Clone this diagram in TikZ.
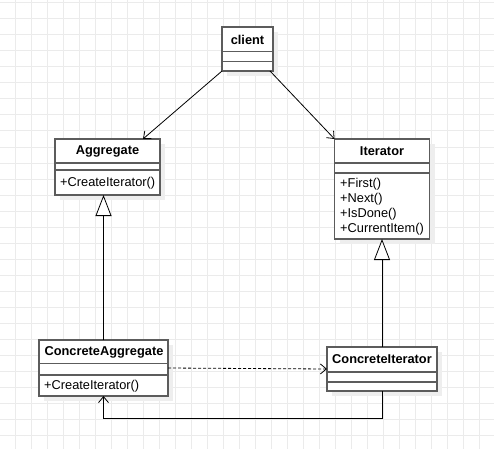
\documentclass[tikz,border=0pt]{standalone}
\usepackage{fontspec}
\setmainfont{Liberation Sans}
\usetikzlibrary{arrows.meta,shadows,calc}
\definecolor{gridc}{HTML}{EBEBEB}
\definecolor{boxc}{HTML}{5C5C5C}
\definecolor{shadowc}{HTML}{EEEEEE}
\begin{document}
\begin{tikzpicture}[x=1pt,y=-1pt,
  cls/.style={draw=boxc, line width=1.3pt, fill=white, inner sep=0pt, outer sep=0pt, anchor=north west,
    drop shadow={shadow xshift=5pt, shadow yshift=-5pt, fill=shadowc, opacity=1}},
  ttl/.style={font=\fontsize{12.8}{15}\selectfont\bfseries, inner sep=0pt},
  mth/.style={font=\fontsize{12.8}{15}\selectfont, inner sep=0pt, anchor=west},
  div/.style={draw=boxc, line width=1.3pt},
  assoc/.style={draw=black, line width=0.8pt, -{Straight Barb[length=6pt,width=10pt,line width=0.8pt]}},
  inh/.style={draw=black, line width=0.8pt, -{Triangle[length=21pt,width=16pt,fill=white,line width=0.8pt]}},
  dep/.style={draw=black, line width=0.8pt, dash pattern=on 3pt off 2pt, -{Straight Barb[length=6pt,width=10pt,line width=0.8pt]}}]
\useasboundingbox (0,0) rectangle (494,449);
\fill[white] (0,0) rectangle (494,449);
\foreach \x in {15,31,...,494} \draw[gridc, line width=1pt] (\x,0) -- (\x,449);
\foreach \y in {3,19,...,449} \draw[gridc, line width=1pt] (0,\y) -- (494,\y);

% classes
\node[cls, minimum width=51pt, minimum height=44pt] (client) at (222,27) {};
\draw[div] ([yshift=-24.5pt]client.north west) -- ([yshift=-24.5pt]client.north east);
\draw[div] ([yshift=-34.5pt]client.north west) -- ([yshift=-34.5pt]client.north east);
\node[ttl] (clientt) at (247.5,39.5) {client};

\node[cls, minimum width=105pt, minimum height=56pt] (agg) at (55,139) {};
\draw[div] ([yshift=-24pt]agg.north west) -- ([yshift=-24pt]agg.north east);
\draw[div] ([yshift=-31pt]agg.north west) -- ([yshift=-31pt]agg.north east);
\node[ttl] (aggt) at (107.5,151.5) {Aggregate};
\node[mth] (aggm) at (60,183) {+CreateIterator()};

\node[cls, minimum width=95pt, minimum height=100pt] (iter) at (334.5,139) {};
\draw[div] ([yshift=-24pt]iter.north west) -- ([yshift=-24pt]iter.north east);
\draw[div] ([yshift=-34pt]iter.north west) -- ([yshift=-34pt]iter.north east);
\node[ttl] (itert) at (382,151.5) {Iterator};
\node[mth] (iterm1) at (340,184) {+First()};
\node[mth] (iterm2) at (340,199) {+Next()};
\node[mth] (iterm3) at (340,214) {+IsDone()};
\node[mth] (iterm4) at (340,229) {+CurrentItem()};

\node[cls, minimum width=129pt, minimum height=56pt] (cagg) at (39,340) {};
\draw[div] ([yshift=-23.5pt]cagg.north west) -- ([yshift=-23.5pt]cagg.north east);
\draw[div] ([yshift=-35pt]cagg.north west) -- ([yshift=-35pt]cagg.north east);
\node[ttl] (caggt) at (104,352) {ConcreteAggregate};
\node[mth] (caggm) at (44,386) {+CreateIterator()};

\node[cls, minimum width=110pt, minimum height=44pt] (citer) at (327,347) {};
\draw[div] ([yshift=-25pt]citer.north west) -- ([yshift=-25pt]citer.north east);
\draw[div] ([yshift=-35pt]citer.north west) -- ([yshift=-35pt]citer.north east);
\node[ttl] (citert) at (382,359.5) {ConcreteIterator};

% connectors
\draw[assoc] (client.south west) -- ([xshift=88pt]agg.north west);
\draw[assoc] ([xshift=-3pt]client.south east) -- (iter.north west);
\draw[inh] (cagg.north) -- (cagg.north |- agg.south);
\draw[inh] (citer.north) -- (iter.south);
\draw[dep] (cagg.east) -- (citer.west);
\draw[assoc] (citer.south) -- ++(0,27) -| (cagg.south);
\end{tikzpicture}
\end{document}
